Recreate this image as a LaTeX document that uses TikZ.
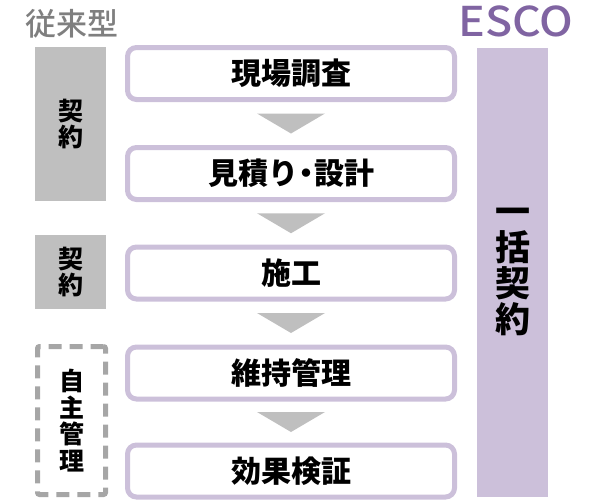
\documentclass[tikz,border=0pt]{standalone}
\usepackage{fontspec}
\usepackage{graphicx}
\setmainfont{Noto Sans CJK JP}
\newfontfamily\jpmed{Noto Sans CJK JP Medium}
\usetikzlibrary{calc}
\definecolor{boxline}{HTML}{CCC0DA}
\definecolor{escotext}{HTML}{8064A2}
\definecolor{sidegray}{HTML}{BFBFBF}
\definecolor{dashgray}{HTML}{A6A6A6}
\definecolor{titlegray}{HTML}{7F7F7F}
\tikzset{
  stepbox/.style={draw=boxline, line width=5pt, rounded corners=9pt, fill=white,
    minimum width=327pt, minimum height=52pt, inner sep=0pt,
    font=\fontsize{30pt}{32pt}\selectfont\bfseries},
  sidebox/.style={fill=sidegray, minimum width=71pt, inner sep=0pt, align=center,
    font=\fontsize{25pt}{26pt}\selectfont\bfseries},
  flowtri/.style={fill=sidegray},
}
\begin{document}
\begin{tikzpicture}[x=1pt,y=-1pt]
\useasboundingbox (0,0) rectangle (589,501);
% titles
\node[text=titlegray, font=\fontsize{31pt}{33pt}\selectfont\jpmed, inner sep=0pt, anchor=base] (t1) at (72,35) {従来型};
\node[text=escotext, font=\fontsize{41pt}{42pt}\selectfont\jpmed, inner sep=0pt, anchor=base] (t2) at (516,36) {\scalebox{1.09}[1]{ESCO}};
% ESCO bar
\node[fill=boxline, minimum width=71pt, minimum height=449pt, inner sep=0pt] (bar) at (512.5,272.5) {};
\node[align=center, font=\fontsize{35pt}{36pt}\selectfont\bfseries] (bartext) at (512.5,272) {一\\括\\契\\約};
% steps
\node[stepbox] (b1) at (291,73.5) {現場調査};
\node[stepbox] (b2) at (291,173.5) {見積り\kern-7pt・\kern-7pt設計};
\node[stepbox] (b3) at (291,273) {施工};
\node[stepbox] (b4) at (291,373) {維持管理};
\node[stepbox] (b5) at (291,471) {効果検証};
% triangles
\foreach \a/\b in {b1/b2,b2/b3,b3/b4,b4/b5}{
  \coordinate (m) at ($(\a.south)!0.5!(\b.north)$);
  \fill[flowtri] ($(m)+(-34,-10)$) -- ($(m)+(34,-10)$) -- ($(m)+(0,10)$) -- cycle;
}
% side boxes
\node[sidebox, minimum height=154pt] (s1) at (70.5,124) {契\\約};
\node[sidebox, minimum height=74pt] (s2) at (70.5,272) {契\\約};
\node[draw=dashgray, line width=5pt, dash pattern=on 13pt off 8pt, rounded corners=2pt,
  minimum width=68pt, minimum height=148pt, inner sep=0pt, align=center,
  font=\fontsize{25pt}{26.5pt}\selectfont\bfseries] (s3) at (71.5,420.5) {自\\主\\管\\理};
\end{tikzpicture}
\end{document}
